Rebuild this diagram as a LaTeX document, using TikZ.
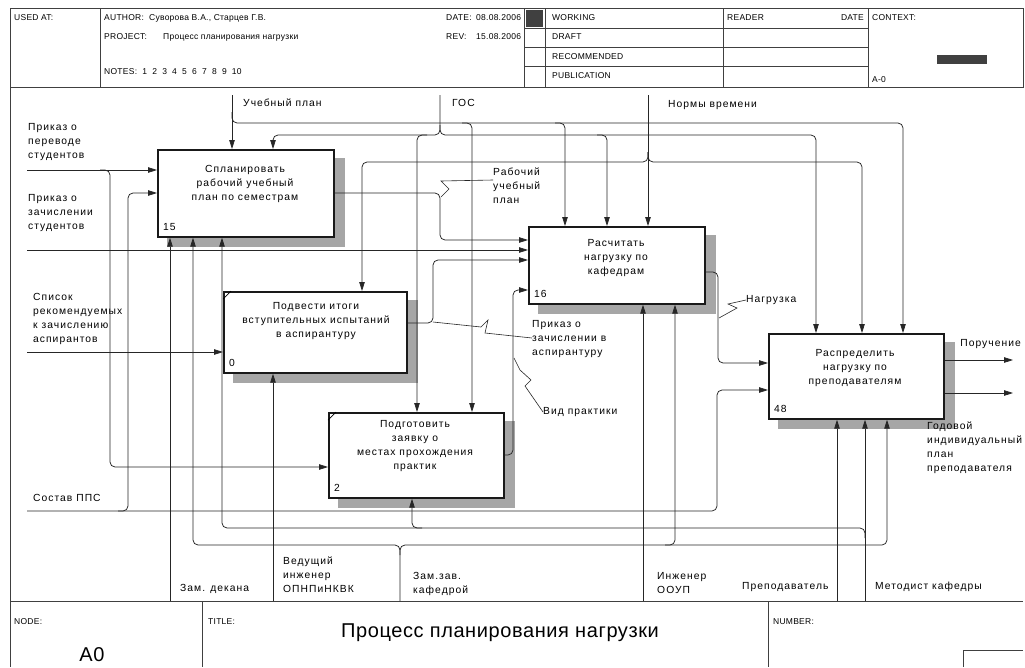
\documentclass[tikz,border=0pt]{standalone}
\usepackage{fontspec}
\setmainfont{Liberation Sans}[LetterSpace=10]
\newfontfamily\hdrfam{Liberation Sans}[LetterSpace=3]
\usetikzlibrary{arrows.meta}
\pgfdeclarelayer{bg}
\pgfdeclarelayer{paper}
\pgfsetlayers{paper,bg,main}
\newcommand\lblfont{\fontsize{10.3}{14}\selectfont}
\newcommand\hdrfont{\hdrfam\fontsize{8.5}{10}\selectfont}
\newcommand\bigfont{\hdrfam\fontsize{20}{22}\selectfont}
\begin{document}
\begin{tikzpicture}[x=1pt,y=-1pt,
  frm/.style={draw=black!75, line width=0.7pt},
  ln/.style={draw=black!85, line width=0.75pt, rounded corners=5pt},
  arr/.style={ln, -{Triangle[length=9pt,width=5.5pt]}},
  box/.style={draw=black!90, line width=1.7pt, fill=white, anchor=north west, inner sep=0pt},
  shd/.style={fill=black!35},
  lbl/.style={font=\lblfont, align=left, inner sep=0pt},
  btx/.style={font=\lblfont, align=center, inner sep=0pt},
  hdr/.style={font=\hdrfont, anchor=west, inner sep=0pt},
  num/.style={font=\lblfont, anchor=west, inner sep=0pt},
  ldr/.style={draw=black!85, line width=0.6pt}]
\useasboundingbox (0,0) rectangle (1025,667);
\begin{pgfonlayer}{paper}
\fill[white] (0,0) rectangle (1025,667);
\end{pgfonlayer}

% ---------- header ----------
\draw[frm] (10,8) rectangle (1023,87);
\draw[frm] (100,8) -- (100,87);
\draw[frm] (524,8) -- (524,87);
\draw[frm] (545,8) -- (545,87);
\draw[frm] (723,8) -- (723,87);
\draw[frm] (868,8) -- (868,87);
\foreach \yy in {28,47,66} \draw[frm] (524,\yy) -- (868,\yy);
\fill[black!75] (526,10) rectangle (543,27);
\fill[black!75] (937,55) rectangle (987,64);
\node[hdr] (usedat) at (14,18) {USED AT:};
\node[hdr] (author) at (104,18) {AUTHOR:};
\node[hdr] (authorv) at (149,18) {Суворова В.А., Старцев Г.В.};
\node[hdr] (project) at (104,37) {PROJECT:};
\node[hdr] (projectv) at (163,37) {Процесс планирования нагрузки};
\node[hdr] (notes) at (104,72) {NOTES: \ 1 \ 2 \ 3 \ 4 \ 5 \ 6 \ 7 \ 8 \ 9 \ 10};
\node[hdr] (date) at (446,18) {DATE:};
\node[hdr] (datev) at (476,18) {08.08.2006};
\node[hdr] (rev) at (446,37) {REV:};
\node[hdr] (revv) at (476,37) {15.08.2006};
\node[hdr] (working) at (552,18) {WORKING};
\node[hdr] (draft) at (552,37) {DRAFT};
\node[hdr] (recom) at (552,57) {RECOMMENDED};
\node[hdr] (publ) at (552,76) {PUBLICATION};
\node[hdr] (reader) at (727,18) {READER};
\node[hdr, anchor=east] (date2) at (864,18) {DATE};
\node[hdr] (context) at (872,18) {CONTEXT:};
\node[hdr] (aminus) at (872,80) {A-0};

% ---------- frame ----------
\draw[frm] (10,87) -- (10,667);
\draw[frm] (10,601) -- (1023,601);
\draw[frm] (202,601) -- (202,667);
\draw[frm] (768,601) -- (768,667);
\draw[frm] (963,667) -- (963,650) -- (1023,650);
\node[hdr] (node) at (14,622) {NODE:};
\node[hdr] (title) at (208,622) {TITLE:};
\node[hdr] (number) at (773,622) {NUMBER:};
\node[font=\bigfont, inner sep=0pt] (a0) at (92,655) {A0};
\node[font=\bigfont, inner sep=0pt] (ttl) at (500,633) {Процесс планирования нагрузки};

% ---------- boxes ----------
\node[box, minimum width=176pt, minimum height=87pt] (A) at (157,149) {};
\node[box, minimum width=183pt, minimum height=81pt] (B) at (223,291) {};
\node[box, minimum width=175pt, minimum height=85pt] (C) at (328,412) {};
\node[box, minimum width=176pt, minimum height=77pt] (D) at (528,226) {};
\node[box, minimum width=175pt, minimum height=85pt] (E) at (768,333) {};
\begin{pgfonlayer}{bg}
\foreach \bx in {A,B,C,D,E}
  \fill[shd] ([shift={(10,9)}]\bx.north west) rectangle ([shift={(10,9)}]\bx.south east);
\end{pgfonlayer}
\draw[line width=0.7pt] ([yshift=-8pt]B.north west) -- ++(8,-8);
\draw[line width=0.7pt] ([yshift=-8pt]C.north west) -- ++(8,-8);

\node[btx] (At) at (245,184) {Спланировать\\рабочий учебный\\план по семестрам};
\node[btx] (Bt) at (316,321) {Подвести итоги\\вступительных испытаний\\в аспирантуру};
\node[btx] (Ct) at (415,446) {Подготовить\\заявку о\\местах прохождения\\практик};
\node[btx] (Dt) at (616,258) {Расчитать\\нагрузку по\\кафедрам};
\node[btx] (Et) at (855,368) {Распределить\\нагрузку по\\преподавателям};
\node[num] (An) at (163,227) {15};
\node[num] (Bn) at (229,363) {0};
\node[num] (Cn) at (334,488) {2};
\node[num] (Dn) at (534,294) {16};
\node[num] (En) at (774,409) {48};

% ---------- labels ----------
\node[lbl, anchor=north west] (l1) at (28,123) {Приказ о\\переводе\\студентов};
\node[lbl, anchor=north west] (l2) at (28,194.5) {Приказ о\\зачислении\\студентов};
\node[lbl, anchor=north west] (l3) at (33,293.5) {Список\\рекомендуемых\\к зачислению\\аспирантов};
\node[lbl, anchor=west] (l4) at (33,498) {Состав ППС};
\node[lbl, anchor=west] (t1) at (243,103) {Учебный план};
\node[lbl, anchor=west] (t2) at (452,103) {ГОС};
\node[lbl, anchor=west] (t3) at (668,105) {Нормы времени};
\node[lbl, anchor=west] (b1) at (180,589) {Зам. декана};
\node[lbl, anchor=north west] (b2) at (283,557) {Ведущий\\инженер\\ОПНПиНКВК};
\node[lbl, anchor=north west] (b3) at (413,572) {Зам.зав.\\кафедрой};
\node[lbl, anchor=north west] (b4) at (657,572) {Инженер\\ООУП};
\node[lbl, anchor=west] (b5) at (742,587) {Преподаватель};
\node[lbl, anchor=west] (b6) at (875,587) {Методист кафедры};
\node[lbl, anchor=east] (o1) at (1021,344) {Поручение};
\node[lbl, anchor=north west] (o2) at (927,422) {Годовой\\индивидуальный\\план\\преподавателя};
\node[lbl, anchor=north west] (m1) at (493,168) {Рабочий\\учебный\\план};
\node[lbl, anchor=west] (m2) at (746,300) {Нагрузка};
\node[lbl, anchor=north west] (m3) at (532,320) {Приказ о\\зачислении в\\аспирантуру};
\node[lbl, anchor=west] (m4) at (543,412) {Вид практики};

% ---------- free ends ----------
\coordinate (in1) at (27,170);
\coordinate (in2) at (27,250);
\coordinate (in3) at (27,352);
\coordinate (in4) at (27,511);
\coordinate (c1) at (232,95);
\coordinate (c2) at (440,95);
\coordinate (c3) at (648,95);
\coordinate (m1e) at (170,601);
\coordinate (m2e) at (273,601);
\coordinate (m3e) at (400,601);
\coordinate (m4e) at (643,601);
\coordinate (m5e) at (837,601);
\coordinate (m6e) at (865,601);
\coordinate (out1) at (1013,360);
\coordinate (out2) at (1013,393);

% ---------- inputs ----------
\draw[arr] (in1) -- (A.west |- in1);
\draw[arr] (100,170) -- (110,170) -- (110,467) -- (C.west |- 0,467);
\draw[arr] (in2) -- (D.west |- in2);
\draw[arr] (in3) -- (B.west |- in3);
\draw[arr] (in4) -- (717,511) -- (717,390) -- (E.west |- 0,390);
\draw[arr] (118,511) -- (128,511) -- (128,193) -- (A.west |- 0,193);

% ---------- controls ----------
\draw[arr] (c1) -- (c1 |- A.north);
\draw[arr] (232,112) -- (232,123) -- (903,123) -- (903,0 |- E.north);
\draw[arr] (462,123) -- (472,123) -- (472,0 |- C.north);
\draw[arr] (555,123) -- (565,123) -- (565,0 |- D.north);
\draw[arr] (c2) -- (440,135) -- (273,135) -- (273,0 |- A.north);
\draw[arr] (440,125) -- (440,135) -- (816,135) -- (816,0 |- E.north);
\draw[arr] (427,135) -- (417,135) -- (417,0 |- C.north);
\draw[arr] (597,135) -- (607,135) -- (607,0 |- D.north);
\draw[arr] (c3) -- (c3 |- D.north);
\draw[arr] (648,152) -- (648,162) -- (362,162) -- (362,0 |- B.north);
\draw[arr] (648,152) -- (648,162) -- (862,162) -- (862,0 |- E.north);

% ---------- mechanisms ----------
\draw[arr] (m1e) -- (m1e |- A.south);
\draw[arr] (m2e) -- (m2e |- B.south);
\draw[arr] (m3e) -- (400,545) -- (193,545) -- (193,0 |- A.south);
\draw[arr] (400,555) -- (400,545) -- (887,545) -- (887,0 |- E.south);
\draw[arr] (665,545) -- (675,545) -- (675,0 |- D.south);
\draw[arr] (m4e) -- (m4e |- D.south);
\draw[arr] (m5e) -- (m5e |- E.south);
\draw[arr] (m6e) -- (m6e |- E.south);
\draw[arr] (865,538) -- (865,528) -- (222,528) -- (222,0 |- A.south);
\draw[arr] (422,528) -- (412,528) -- (412,0 |- C.south);

% ---------- outputs ----------
\draw[arr] (A.east |- 0,193) -- (440,193) -- (440,240) -- (D.west |- 0,240);
\draw[arr] (B.east |- 0,323) -- (433,323) -- (433,260) -- (D.west |- 0,260);
\draw[arr] (C.east |- 0,455) -- (513,455) -- (513,290) -- (D.west |- 0,290);
\draw[arr] (D.east |- 0,272) -- (718,272) -- (718,363) -- (E.west |- 0,363);
\draw[arr] (E.east |- out1) -- (out1);
\draw[arr] (E.east |- out2) -- (out2);

% ---------- leaders ----------
\draw[ldr] (m1.west |- 0,180) -- (441,181) -- (449,189) -- (441,197);
\draw[ldr] (m2.west) -- (728,304) -- (737,308) -- (719,318);
\draw[ldr] (433,322) -- (481,327) -- (488,320) -- (485,333) -- (m3.west |- 0,338);
\draw[ldr] (m4.west) -- (525,386) -- (531,380) -- (520,370) -- (514,358);
\end{tikzpicture}
\end{document}
